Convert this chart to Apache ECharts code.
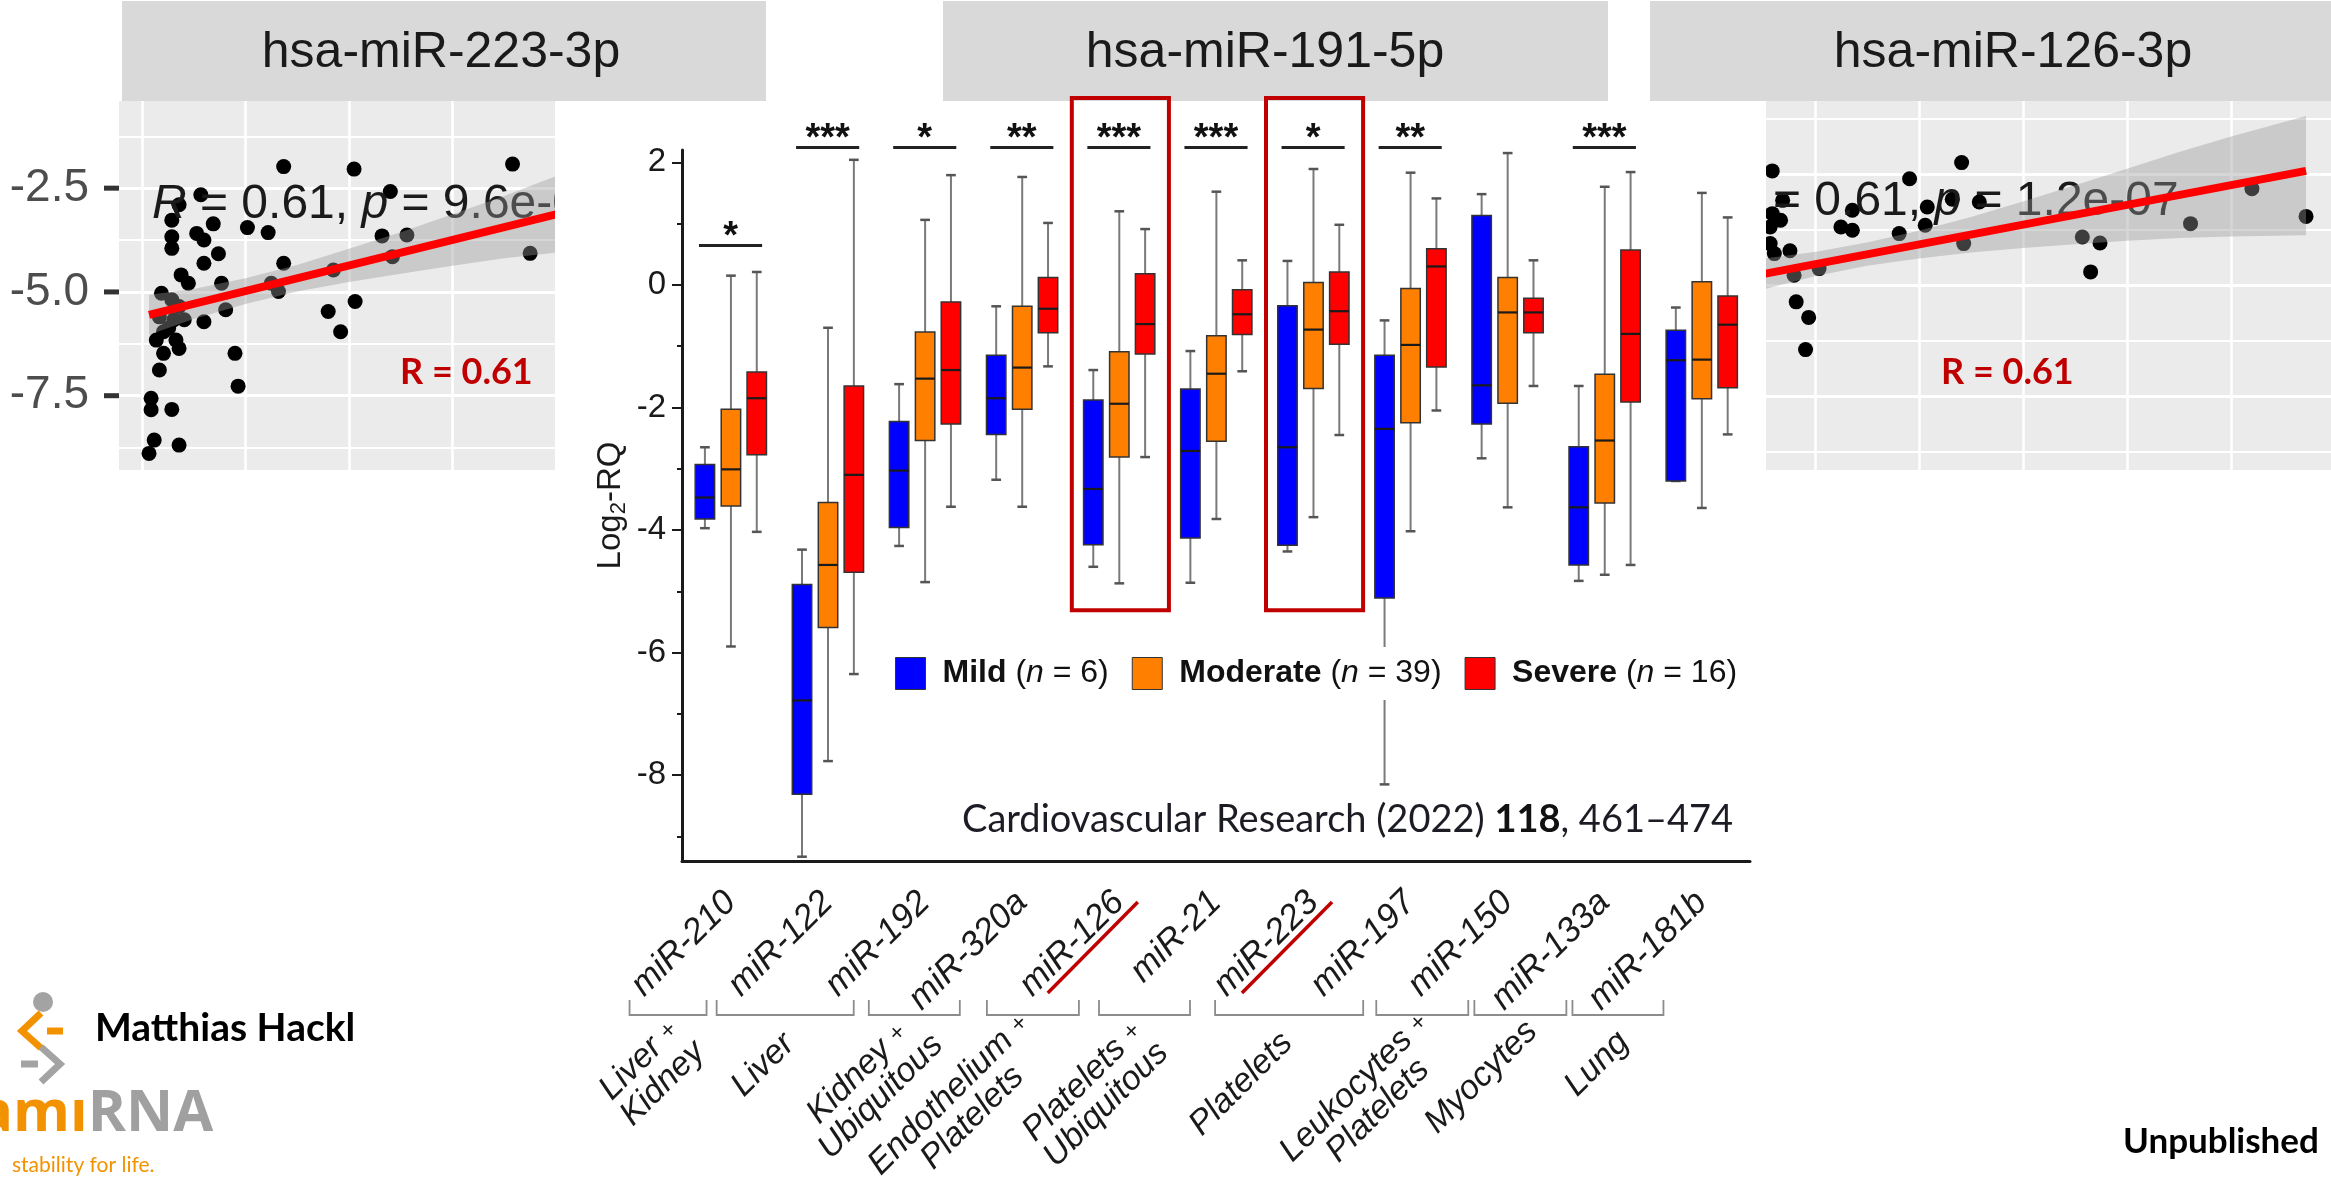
<!DOCTYPE html>
<html>
<head>
<meta charset="utf-8">
<title>miRNA Log2-RQ by severity</title>
<script src="https://cdn.jsdelivr.net/npm/echarts@6.0.0/dist/echarts.min.js"></script>
<style>
html,body{margin:0;padding:0;background:#ffffff;overflow:hidden;}
#chart{width:2331px;height:1178px;}
</style>
</head>
<body>
<div id="chart"></div>
<script>
// ---------------- data ----------------
const categories = ['miR-210','miR-122','miR-192','miR-320a','miR-126','miR-21','miR-223','miR-197','miR-150','miR-133a','miR-181b'];
// each box: [min, Q1, median, Q3, max] (Log2-RQ)
const mildBoxes = [
  [-3.97,-3.82,-3.47,-2.93,-2.65],
  [-9.33,-8.31,-6.78,-4.89,-4.32],
  [-4.26,-3.96,-3.03,-2.23,-1.62],
  [-3.18,-2.44,-1.85,-1.15,-0.35],
  [-4.60,-4.24,-3.33,-1.88,-1.39],
  [-4.86,-4.13,-2.71,-1.70,-1.08],
  [-4.35,-4.25,-2.65,-0.34,0.39],
  [-8.15,-5.11,-2.35,-1.15,-0.58],
  [-2.83,-2.27,-1.64,1.13,1.48],
  [-4.83,-4.57,-3.63,-2.64,-1.65],
  [-3.20,-3.20,-1.23,-0.74,-0.37]
];
const moderateBoxes = [
  [-5.90,-3.61,-3.01,-2.03,0.15],
  [-7.77,-5.59,-4.57,-3.55,-0.70],
  [-4.85,-2.54,-1.53,-0.77,1.06],
  [-3.62,-2.03,-1.35,-0.35,1.76],
  [-4.87,-2.81,-1.94,-1.09,1.20],
  [-3.82,-2.55,-1.45,-0.83,1.52],
  [-3.79,-1.69,-0.73,0.04,1.89],
  [-4.02,-2.25,-0.98,-0.06,1.83],
  [-3.63,-1.93,-0.45,0.12,2.15],
  [-4.73,-3.56,-2.54,-1.46,1.60],
  [-3.64,-1.86,-1.22,0.05,1.50]
];
const severeBoxes = [
  [-4.03,-2.77,-1.85,-1.42,0.21],
  [-6.35,-4.69,-3.10,-1.65,2.04],
  [-3.62,-2.27,-1.39,-0.28,1.79],
  [-1.33,-0.78,-0.39,0.12,1.01],
  [-2.81,-1.13,-0.64,0.18,0.91],
  [-1.41,-0.81,-0.48,-0.08,0.40],
  [-2.45,-0.97,-0.43,0.21,0.98],
  [-2.05,-1.34,0.30,0.59,1.41],
  [-1.65,-0.78,-0.45,-0.22,0.40],
  [-4.57,-1.91,-0.80,0.57,1.84],
  [-2.44,-1.68,-0.65,-0.18,1.10]
];
const severityNames = ['Mild','Moderate','Severe'];
const severityN = [6, 39, 16];
const severityColors = ['#0000FF','#FF8000','#FF0000'];

const sigCategory = ['miR-210','miR-122','miR-192','miR-320a','miR-126','miR-21','miR-223','miR-197','miR-133a'];
const sigStars    = ['*','***','*','**','***','***','*','**','***'];
const sigBarY     = [0.64, 2.24, 2.24, 2.24, 2.24, 2.24, 2.24, 2.24, 2.24];

const highlightCategory = ['miR-126','miR-223'];
const highlightTop = 3.05;
const highlightBottom = -5.31;

const tissueNames = [['Liver','Kidney'],['Liver'],['Kidney','Ubiquitous'],['Endothelium','Platelets'],['Platelets','Ubiquitous'],['Platelets'],['Leukocytes','Platelets'],['Myocytes'],['Lung']];
const tissueFirst = ['miR-210','miR-122','miR-320a','miR-126','miR-21','miR-223','miR-150','miR-133a','miR-181b'];
const tissueLast  = ['miR-210','miR-192','miR-320a','miR-126','miR-21','miR-197','miR-150','miR-133a','miR-181b'];

const mainMin = -9.4, mainMax = 2.2;
const mainMajorTicks = [-8,-6,-4,-2,0,2];
const mainMinorTicks = [-9,-7,-5,-3,-1,1];

// hsa-miR-223-3p correlation panel (x: arbitrary panel units, y: log values)
const mir223Points = [
  [1.37,-1.98],[2.05,-2.04],[3.58,-1.92],[0.57,-2.66],[2.40,-2.58],[0.36,-2.90],[0.29,-3.27],[0.69,-3.36],
  [1.02,-3.45],[1.22,-3.57],[2.32,-3.65],[2.56,-3.63],[0.29,-3.67],[0.53,-3.59],[0.60,-3.75],[0.29,-3.95],
  [0.74,-4.08],[0.60,-4.31],[1.37,-4.31],[3.75,-4.07],[2.42,-4.15],[0.38,-4.59],[0.45,-4.79],[0.77,-4.79],
  [1.85,-4.47],[1.25,-4.79],[1.32,-4.99],[0.19,-5.03],[0.29,-5.19],[0.36,-5.35],[0.81,-5.43],[0.17,-5.60],
  [0.31,-5.67],[0.60,-5.72],[1.80,-5.47],[2.06,-5.23],[1.92,-5.96],[0.21,-5.96],[0.33,-6.16],[0.36,-6.36],
  [0.21,-6.48],[0.90,-6.48],[0.17,-6.88],[0.93,-7.27],[0.09,-7.56],[0.09,-7.84],[0.29,-7.83],[0.12,-8.57],
  [0.36,-8.69],[0.07,-8.89],[0.41,-5.67],[0.26,-5.87],[0.14,-6.16]
];
const mir223Fit = [[0.07,-5.55],[4.2,-3.01]];
const mir223BandX  = [0.07, 0.5, 1.0, 1.5, 2.0, 2.5, 3.0, 3.5, 4.2];
const mir223BandLo = [-6.03,-5.65,-5.29,-4.99,-4.76,-4.56,-4.37,-4.19,-4.00];
const mir223BandHi = [-5.07,-4.93,-4.67,-4.35,-3.96,-3.56,-3.13,-2.69,-2.02];
const mir223YTicks = [-7.5,-5.0,-2.5];
const mir223HGrid = [-1.25,-2.5,-3.75,-5.0,-6.25,-7.5,-8.75];
const mir223VGrid = [0,1,2,3];

// hsa-miR-126-3p correlation panel
const mir126Points = [
  [-0.41,2.06],[1.41,2.21],[0.91,1.92],[-0.31,1.53],[1.58,1.50],[1.32,1.55],[1.08,1.41],[0.36,1.35],
  [0.25,1.05],[0.36,0.99],[1.06,1.08],[0.81,0.93],[4.20,1.74],[4.72,1.24],[3.61,1.11],[2.57,0.87],
  [2.74,0.76],[2.65,0.24],[1.43,0.75],[-0.24,0.62],[-0.39,0.57],[-0.43,0.75],[-0.20,0.18],[0.04,0.30],
  [-0.18,-0.30],[-0.06,-0.58],[-0.09,-1.16],[-0.41,1.29],[-0.33,1.17],[-0.43,1.05]
];
const mir126Fit = [[-0.5,0.20],[4.72,2.06]];
const mir126BandX  = [-0.5, 0, 0.5, 1, 1.5, 2, 2.5, 3, 3.5, 4, 4.72];
const mir126BandLo = [-0.08,0.16,0.35,0.48,0.59,0.67,0.74,0.80,0.85,0.88,0.90];
const mir126BandHi = [0.48,0.60,0.77,0.98,1.23,1.51,1.80,2.10,2.40,2.68,3.05];
const mir126HGrid = [-3,-2,-1,0,1,2,3];
const mir126VGrid = [0,1,2,3,4];

// ---------------- layout / style (not data) ----------------
const FONT = '"Liberation Sans", Arial, Helvetica, sans-serif';
const SLIDE = 'Lato, "Open Sans", sans-serif';
const boxOffset = [-0.264, 0.004, 0.27];      // fraction of category band
const bracketInset = [[101,24],[111,71],[153,62],[132,40],[117,26],[98,47],[131,39],[130,38],[129,38]];
const tissueLabelOffset = [[-17,211],[-22,204],[-45,224],[-72,245],[-50,232],[-48,223],[-56,238],[-39,216],[-21,203]];
const leftPanel = {left:119, top:101, width:436, height:369, yMin:-9.29, yMax:-0.4, xMin:-0.22, xMax:3.99};

// ---------------- helpers ----------------
function boxRenderer(k) {
  return function (params, api) {
    const ci = api.value(0);
    const band = api.size([1, 0])[0];
    const cx = api.coord([ci, 0])[0] + boxOffset[k] * band;
    const y = [1,2,3,4,5].map(d => api.coord([ci, api.value(d)])[1]);
    const hw = band * 0.1, cw = band * 0.05;
    return {
      type: 'group',
      children: [
        {type:'line', shape:{x1:cx,y1:y[4],x2:cx,y2:y[3]}, style:{stroke:'#7a7a7a', lineWidth:2}},
        {type:'line', shape:{x1:cx,y1:y[1],x2:cx,y2:y[0]}, style:{stroke:'#7a7a7a', lineWidth:2}},
        {type:'line', shape:{x1:cx-cw,y1:y[4],x2:cx+cw,y2:y[4]}, style:{stroke:'#555', lineWidth:2.5}},
        {type:'line', shape:{x1:cx-cw,y1:y[0],x2:cx+cw,y2:y[0]}, style:{stroke:'#555', lineWidth:2.5}},
        {type:'rect', shape:{x:cx-hw, y:y[3], width:2*hw, height:Math.max(1, y[1]-y[3])},
          style:{fill:severityColors[k], stroke:'#333', lineWidth:1.5}},
        {type:'line', shape:{x1:cx-hw,y1:y[2],x2:cx+hw,y2:y[2]}, style:{stroke:'#1a1a1a', lineWidth:2.2}}
      ]
    };
  };
}
function bandRenderer(xs, lo, hi) {
  return function (params, api) {
    const pts = [];
    for (let i = 0; i < xs.length; i++) pts.push(api.coord([xs[i], hi[i]]));
    for (let i = xs.length - 1; i >= 0; i--) pts.push(api.coord([xs[i], lo[i]]));
    return {type:'polygon', shape:{points:pts}, style:{fill:'rgba(153,153,153,0.4)'}};
  };
}
function gridLines(h, v, majorH) {
  const out = [];
  h.forEach(val => out.push({yAxis: val, lineStyle:{width: (majorH && majorH.indexOf(val) >= 0) ? 3 : 2}}));
  v.forEach(val => out.push({xAxis: val, lineStyle:{width: 2.6}}));
  return out;
}
const catIndex = c => categories.indexOf(c);
// tick marks of the left panel's y axis (same linear mapping as that axis)
const leftTickEls = mir223YTicks.map(v => {
  const y = leftPanel.top + (leftPanel.yMax - v) / (leftPanel.yMax - leftPanel.yMin) * leftPanel.height;
  return {type:'rect', zlevel:1, z:60, silent:true, shape:{x:leftPanel.left - 15, y:y - 2.5, width:15, height:5}, style:{fill:'#333333'}};
});

// ---------------- option ----------------
const option = {
  animation: false,
  backgroundColor: 'transparent',
  grid: [
    {left:leftPanel.left, top:leftPanel.top, width:leftPanel.width, height:leftPanel.height, show:true, backgroundColor:'#EBEBEB', borderWidth:0, outerBoundsMode:'none'},
    {left:1766, top:101, width:565, height:369, show:true, backgroundColor:'#EBEBEB', borderWidth:0, outerBoundsMode:'none'},
    {left:682, top:150, width:1068, height:711, show:false, outerBoundsMode:'none'}
  ],
  xAxis: [
    {gridIndex:0, type:'value', min:leftPanel.xMin, max:leftPanel.xMax, show:false},
    {gridIndex:1, type:'value', min:-0.47, max:4.96, show:false},
    {gridIndex:2, type:'category', data:categories, zlevel:1, boundaryGap:true,
      axisLine:{onZero:false, lineStyle:{color:'#1a1a1a', width:3}},
      axisTick:{alignWithLabel:true, length:11, lineStyle:{color:'#1a1a1a', width:2}},
      axisLabel:{interval:0, rotate:45, fontStyle:'italic', fontSize:35, color:'#1a1a1a', margin:36, fontFamily:FONT},
      splitLine:{show:false}}
  ],
  yAxis: [
    {gridIndex:0, type:'value', min:leftPanel.yMin, max:leftPanel.yMax, position:'left',
      axisLine:{show:false, onZero:false}, splitLine:{show:false}, axisTick:{show:false},
      axisLabel:{customValues:mir223YTicks, formatter: v => Number(v).toFixed(1), fontSize:46, color:'#4D4D4D', margin:30, fontFamily:FONT}},
    {gridIndex:1, type:'value', min:-3.33, max:3.32, show:false},
    {gridIndex:2, type:'value', min:mainMin, max:mainMax, position:'left', zlevel:1,
      axisLine:{show:true, onZero:false, lineStyle:{color:'#1a1a1a', width:3}},
      axisTick:{show:true, customValues:mainMajorTicks, length:10, lineStyle:{color:'#1a1a1a', width:2}},
      axisLabel:{customValues:mainMajorTicks, fontSize:33, color:'#1a1a1a', margin:16, fontFamily:FONT},
      splitLine:{show:false},
      name:'{a|Log}{s|2}{a|-RQ}', nameLocation:'middle', nameGap:52, nameRotate:90,
      nameTextStyle:{fontSize:33, color:'#1a1a1a', fontFamily:FONT,
        rich:{a:{fontSize:33, color:'#1a1a1a', fontFamily:FONT}, s:{fontSize:22, color:'#1a1a1a', fontFamily:FONT, padding:[16,0,0,0]}}}},
    {gridIndex:2, type:'value', min:mainMin, max:mainMax, position:'left', zlevel:1,
      axisLine:{show:false, onZero:false}, axisLabel:{show:false}, splitLine:{show:false},
      axisTick:{show:true, customValues:mainMinorTicks, length:5, lineStyle:{color:'#1a1a1a', width:2}}}
  ],
  legend: {
    data: severityNames, zlevel:1, z:6, left:885, top:647, padding:10, backgroundColor:'#ffffff',
    orient:'horizontal', itemWidth:30, itemHeight:32, itemGap:23, icon:'rect', selectedMode:false,
    itemStyle:{borderColor:'#333', borderWidth:1},
    formatter: name => '{b|' + name + '} (' + '{i|n}' + ' = ' + severityN[severityNames.indexOf(name)] + ')',
    textStyle:{fontSize:32, color:'#111', fontFamily:FONT, padding:[0,0,0,12],
      rich:{b:{fontWeight:'bold', fontSize:32, color:'#111', fontFamily:FONT},
            i:{fontStyle:'italic', fontSize:32, color:'#111', fontFamily:FONT}}}
  },
  series: [
    // ---- left correlation panel ----
    {type:'scatter', name:'miR-223 points', xAxisIndex:0, yAxisIndex:0, data:mir223Points, symbolSize:15,
      itemStyle:{color:'#000', opacity:1}, z:2, silent:true,
      markLine:{silent:true, z:1, symbol:['none','none'], label:{show:false}, emphasis:{disabled:true},
        lineStyle:{color:'#ffffff', type:'solid', width:2}, data:gridLines(mir223HGrid, mir223VGrid, [-2.5,-5.0,-7.5])}},
    {type:'custom', name:'miR-223 band', xAxisIndex:0, yAxisIndex:0, data:[mir223Fit[0]], clip:true, z:4, silent:true,
      renderItem: bandRenderer(mir223BandX, mir223BandLo, mir223BandHi)},
    {type:'line', name:'miR-223 fit', xAxisIndex:0, yAxisIndex:0, data:mir223Fit, symbol:'none', clip:true, z:5, silent:true,
      lineStyle:{color:'#FF0000', width:8}},
    // ---- right correlation panel ----
    {type:'scatter', name:'miR-126 points', xAxisIndex:1, yAxisIndex:1, data:mir126Points, symbolSize:15,
      itemStyle:{color:'#000', opacity:1}, z:2, silent:true,
      markLine:{silent:true, z:1, symbol:['none','none'], label:{show:false}, emphasis:{disabled:true},
        lineStyle:{color:'#ffffff', type:'solid', width:2}, data:gridLines(mir126HGrid, mir126VGrid, [-2,0,2])}},
    {type:'custom', name:'miR-126 band', xAxisIndex:1, yAxisIndex:1, data:[mir126Fit[0]], clip:true, z:4, silent:true,
      renderItem: bandRenderer(mir126BandX, mir126BandLo, mir126BandHi)},
    {type:'line', name:'miR-126 fit', xAxisIndex:1, yAxisIndex:1, data:mir126Fit, symbol:'none', clip:true, z:5, silent:true,
      lineStyle:{color:'#FF0000', width:8}},
    // ---- main boxplots ----
    ...[mildBoxes, moderateBoxes, severeBoxes].map((boxes, k) => ({
      type:'custom', name:severityNames[k], xAxisIndex:2, yAxisIndex:2, zlevel:1, z:3, clip:false,
      itemStyle:{color:severityColors[k]},
      encode:{x:0, y:[1,2,3,4,5]},
      data: boxes.map((b, i) => [i].concat(b)),
      renderItem: boxRenderer(k)
    })),
    // ---- significance bars ----
    {type:'custom', name:'significance', xAxisIndex:2, yAxisIndex:2, zlevel:1, z:3, clip:false, silent:true,
      encode:{x:0, y:1},
      data: sigCategory.map((c, i) => [catIndex(c), sigBarY[i]]),
      renderItem: function (params, api) {
        const band = api.size([1,0])[0];
        const p = api.coord([api.value(0), api.value(1)]);
        return {type:'group', children:[
          {type:'line', shape:{x1:p[0]-0.325*band, y1:p[1], x2:p[0]+0.325*band, y2:p[1]}, style:{stroke:'#222', lineWidth:3}},
          {type:'text', x:p[0], y:p[1]-8, style:{text:sigStars[params.dataIndex], fontSize:38, fontWeight:'bold', fontFamily:FONT, fill:'#111', align:'center', verticalAlign:'middle'}}
        ]};
      }},
    // ---- tissue brackets + labels ----
    {type:'custom', name:'tissue', xAxisIndex:2, yAxisIndex:2, zlevel:1, z:3, clip:false, silent:true,
      encode:{x:[0,2], y:1},
      data: tissueFirst.map((c, i) => [catIndex(c), mainMin, catIndex(tissueLast[i])]),
      renderItem: function (params, api) {
        const i = params.dataIndex;
        const a = api.coord([api.value(0), api.value(1)]);
        const b = api.coord([api.value(2), api.value(1)]);
        const axisY = a[1];
        const x1 = a[0] - bracketInset[i][0], x2 = b[0] - bracketInset[i][1];
        const yT = axisY + 139, yB = axisY + 154;
        const cx = (x1 + x2) / 2;
        const nm = tissueNames[i];
        const txt = nm.length > 1 ? ('{a|' + nm[0] + ' }{x|+}\n{a|' + nm[1] + '}') : ('{a|' + nm[0] + '}');
        return {type:'group', children:[
          {type:'polyline', shape:{points:[[x1,yT],[x1,yB],[x2,yB],[x2,yT]]}, style:{stroke:'#8c8c8c', lineWidth:1.8, fill:null}},
          {type:'text', x: cx + tissueLabelOffset[i][0], y: axisY + tissueLabelOffset[i][1], rotation: Math.PI/4,
            style:{text:txt, align:'center', verticalAlign:'middle', fontSize:34, fontStyle:'italic', fontFamily:FONT, fill:'#1a1a1a', lineHeight:33,
              rich:{a:{align:'center', fontSize:34, fontStyle:'italic', fontFamily:FONT, fill:'#1a1a1a', lineHeight:33},
                    x:{align:'center', fontSize:24, fontFamily:FONT, fill:'#1a1a1a', lineHeight:33}}}}
        ]};
      }},
    // ---- highlight boxes ----
    {type:'custom', name:'highlight', xAxisIndex:2, yAxisIndex:2, zlevel:1, z:10, clip:false, silent:true,
      encode:{x:0, y:1},
      data: highlightCategory.map(c => [catIndex(c), highlightBottom]),
      renderItem: function (params, api) {
        const band = api.size([1,0])[0];
        const ci = api.value(0);
        const cx = api.coord([ci, 0])[0];
        const yTop = api.coord([ci, highlightTop])[1];
        const yBot = api.coord([ci, highlightBottom])[1];
        const axisY = api.coord([ci, mainMin])[1];
        return {type:'group', children:[
          {type:'rect', shape:{x:cx-0.485*band, y:yTop, width:band, height:yBot-yTop}, style:{fill:null, stroke:'#C00000', lineWidth:4}},
          {type:'line', shape:{x1:cx+0.195*band, y1:axisY+41, x2:cx-0.733*band, y2:axisY+132}, style:{stroke:'#C00000', lineWidth:3.5}}
        ]};
      }}
  ],
  graphic: [
    // mask for main panel area over the side panels
    {type:'rect', zlevel:1, z:-10, silent:true, shape:{x:555, y:101, width:1211, height:400}, style:{fill:'#ffffff'}},
    // strip headers
    {type:'rect', zlevel:1, z:5, shape:{x:122, y:1, width:644, height:100}, style:{fill:'#D9D9D9'}},
    {type:'rect', zlevel:1, z:5, shape:{x:943, y:1, width:665, height:100}, style:{fill:'#D9D9D9'}},
    {type:'rect', zlevel:1, z:5, shape:{x:1650, y:1, width:681, height:100}, style:{fill:'#D9D9D9'}},
    {type:'text', zlevel:1, z:6, x:441, y:53, style:{text:'hsa-miR-223-3p', fontSize:50, fontFamily:FONT, fill:'#1a1a1a', align:'center', verticalAlign:'middle'}},
    {type:'text', zlevel:1, z:6, x:1265, y:53, style:{text:'hsa-miR-191-5p', fontSize:50, fontFamily:FONT, fill:'#1a1a1a', align:'center', verticalAlign:'middle'}},
    {type:'text', zlevel:1, z:6, x:2013, y:53, style:{text:'hsa-miR-126-3p', fontSize:50, fontFamily:FONT, fill:'#1a1a1a', align:'center', verticalAlign:'middle'}},
    // correlation statistics (under band, above points)
    {type:'text', zlevel:0, z:3, x:152, y:205, silent:true, style:{text:'{i|R} = 0.61, {i|p} = 9.6e-08', fontSize:48, fontFamily:FONT, fill:'#1a1a1a', verticalAlign:'middle',
      rich:{i:{fontStyle:'italic', fontSize:48, fontFamily:FONT, fill:'#1a1a1a'}}}},
    {type:'text', zlevel:0, z:3, x:1725, y:202, silent:true, style:{text:'{i|R} = 0.61, {i|p} = 1.2e-07', fontSize:48, fontFamily:FONT, fill:'#1a1a1a', verticalAlign:'middle',
      rich:{i:{fontStyle:'italic', fontSize:48, fontFamily:FONT, fill:'#1a1a1a'}}}},
    // red annotations
    {type:'text', zlevel:1, z:20, x:400, y:372, style:{text:'R = 0.61', fontSize:36, fontWeight:'bold', fontFamily:SLIDE, fill:'#C00000', verticalAlign:'middle'}},
    {type:'text', zlevel:1, z:20, x:1941, y:372, style:{text:'R = 0.61', fontSize:36, fontWeight:'bold', fontFamily:SLIDE, fill:'#C00000', verticalAlign:'middle'}},
    // citation
    {type:'text', zlevel:1, z:5, x:962, y:820, style:{text:'{a|Cardiovascular Research (2022) }{b|118}{a|, 461–474}', fontSize:38, fontFamily:SLIDE, fill:'#1c1c24', verticalAlign:'middle',
      rich:{a:{fontSize:38, fontFamily:SLIDE, fill:'#1c1c24'}, b:{fontSize:38, fontWeight:'bold', fontFamily:SLIDE, fill:'#111'}}}},
    // presenter + logo
    {type:'text', zlevel:1, z:5, x:95, y:1028, style:{text:'Matthias Hackl', fontSize:39, fontWeight:'bold', fontFamily:SLIDE, fill:'#000', verticalAlign:'middle'}},
    {type:'circle', zlevel:1, z:5, shape:{cx:43, cy:1002, r:10}, style:{fill:'#A3A3A3'}},
    {type:'polyline', zlevel:1, z:5, shape:{points:[[41,1013],[22,1031],[41,1048]]}, style:{stroke:'#F39200', lineWidth:7, fill:null}},
    {type:'line', zlevel:1, z:5, shape:{x1:47, y1:1031, x2:63, y2:1031}, style:{stroke:'#F39200', lineWidth:7}},
    {type:'line', zlevel:1, z:5, shape:{x1:21, y1:1064, x2:38, y2:1064}, style:{stroke:'#A3A3A3', lineWidth:7}},
    {type:'polyline', zlevel:1, z:5, shape:{points:[[41,1047],[60,1064],[41,1082]]}, style:{stroke:'#A3A3A3', lineWidth:7, fill:null}},
    {type:'text', zlevel:1, z:5, x:-22, y:1114, style:{text:'{o|amı}{g|RNA}', fontSize:58, fontWeight:'bold', fontFamily:'"Open Sans", sans-serif', verticalAlign:'middle',
      rich:{o:{fontSize:58, fontWeight:'bold', fontFamily:'"Open Sans", sans-serif', fill:'#F39200'}, g:{fontSize:58, fontWeight:'bold', fontFamily:'"Open Sans", sans-serif', fill:'#A0A0A0'}}}},
    {type:'text', zlevel:1, z:5, x:12, y:1165, style:{text:'stability for life.', fontSize:21, fontFamily:SLIDE, fill:'#F39200', verticalAlign:'middle'}},
    {type:'text', zlevel:1, z:5, x:2123, y:1142, style:{text:'Unpublished', fontSize:35, fontWeight:'bold', fontFamily:SLIDE, fill:'#000', verticalAlign:'middle'}}
  ].concat(leftTickEls)
};

const chart = echarts.init(document.getElementById('chart'), null, {renderer:'canvas', width:2331, height:1178});
chart.setOption(option);
</script>
</body>
</html>
